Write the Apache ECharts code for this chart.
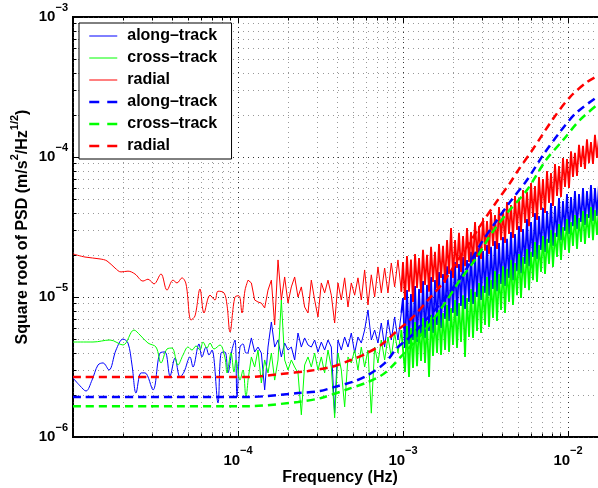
<!DOCTYPE html>
<html><head><meta charset="utf-8">
<script src="https://cdn.jsdelivr.net/npm/echarts@6/dist/echarts.min.js"></script>
<style>html,body{margin:0;padding:0;background:#fff}#c{width:598px;height:488px}</style>
</head><body><div id="c"></div>
<script>
// ---------------- data ----------------
const seriesNames = ['along–track', 'cross–track', 'radial'];
const modelNames = ['along–track ', 'cross–track ', 'radial '];

// measured spectra, low-frequency part (smooth)
const alongLowFreq = [1.000e-5,1.103e-5,1.199e-5,1.304e-5,1.418e-5,1.520e-5,1.653e-5,1.822e-5,2.009e-5,2.154e-5,2.278e-5,2.409e-5,2.583e-5,2.732e-5,3.054e-5,3.368e-5,3.611e-5,3.872e-5,4.151e-5,4.451e-5,4.706e-5,5.118e-5,5.337e-5,5.801e-5,6.050e-5,6.398e-5,6.671e-5,6.957e-5,7.565e-5,7.889e-5,8.342e-5,8.698e-5,9.197e-5,9.590e-5,9.861e-5,1.028e-4,1.072e-4,1.118e-4,1.150e-4];
const alongLow = [2.64e-6,2.32e-6,2.13e-6,2.55e-6,3.27e-6,3.38e-6,3.01e-6,4.18e-6,5.01e-6,4.69e-6,3.27e-6,2.06e-6,2.87e-6,2.87e-6,2.17e-6,3.98e-6,4.05e-6,2.73e-6,3.67e-6,2.68e-6,2.91e-6,3.73e-6,3.16e-6,4.62e-6,3.73e-6,4.39e-6,3.85e-6,4.18e-6,1.75e-6,3.98e-6,4.05e-6,2.87e-6,4.18e-6,4.93e-6,1.93e-6,4.39e-6,4.62e-6,3.98e-6,3.98e-6];

const crossLowFreq = [1.000e-5,1.322e-5,1.676e-5,2.009e-5,2.342e-5,2.547e-5,2.848e-5,3.185e-5,3.415e-5,3.713e-5,3.981e-5,4.329e-5,4.642e-5,4.977e-5,5.263e-5,5.566e-5,5.885e-5,6.136e-5,6.488e-5,6.766e-5,7.153e-5,7.780e-5,8.342e-5,8.577e-5,9.070e-5,9.458e-5,9.725e-5,1.028e-4,1.072e-4,1.118e-4,1.150e-4];
const crossLow = [4.77e-6,4.77e-6,4.93e-6,4.54e-6,5.81e-6,5.35e-6,4.69e-6,4.39e-6,3.38e-6,4.25e-6,4.32e-6,3.27e-6,3.85e-6,4.39e-6,4.18e-6,4.47e-6,4.18e-6,4.77e-6,4.32e-6,4.69e-6,4.25e-6,4.54e-6,3.67e-6,2.87e-6,3.98e-6,2.91e-6,3.55e-6,2.55e-6,3.01e-6,1.93e-6,2.55e-6];

const radialLowFreq = [1.000e-5,1.182e-5,1.458e-5,1.607e-5,1.797e-5,1.954e-5,2.154e-5,2.375e-5,2.656e-5,2.848e-5,3.097e-5,3.415e-5,3.713e-5,4.037e-5,4.268e-5,4.577e-5,4.840e-5,5.191e-5,5.488e-5,5.885e-5,6.222e-5,6.766e-5,7.254e-5,7.565e-5,8.227e-5,8.577e-5,8.944e-5,9.590e-5,1.014e-4,1.057e-4,1.103e-4,1.150e-4];
const radialLow = [2.03e-5,1.93e-5,1.87e-5,1.81e-5,1.61e-5,1.51e-5,1.53e-5,1.46e-5,1.30e-5,1.34e-5,1.24e-5,1.46e-5,1.12e-5,1.32e-5,1.26e-5,1.37e-5,1.24e-5,6.85e-6,7.33e-6,1.14e-5,7.69e-6,1.03e-5,9.52e-6,1.10e-5,1.07e-5,8.77e-6,5.62e-6,1.00e-5,1.02e-5,7.69e-6,1.12e-5,1.32e-5];

// measured spectra, noisy high-frequency part (shared frequency bins)
const bandFreq = [
1.150e-4,1.205e-4,1.262e-4,1.322e-4,1.385e-4,1.451e-4,1.520e-4,1.593e-4,1.668e-4,1.748e-4,1.831e-4,1.918e-4,2.009e-4,2.105e-4,2.205e-4,2.310e-4,2.420e-4,2.535e-4,2.656e-4,2.782e-4,2.915e-4,3.053e-4,3.199e-4,3.351e-4,3.511e-4,3.678e-4,3.853e-4,4.036e-4,4.228e-4,4.430e-4,4.641e-4,4.861e-4,5.093e-4,5.335e-4,5.589e-4,5.855e-4,6.134e-4,6.426e-4,6.732e-4,7.053e-4,7.388e-4,7.740e-4,8.109e-4,8.495e-4,8.899e-4,9.323e-4,9.767e-4,
1.000e-3,1.028e-3,1.057e-3,1.087e-3,1.118e-3,1.150e-3,1.183e-3,1.216e-3,1.251e-3,1.286e-3,1.322e-3,1.360e-3,1.398e-3,1.438e-3,1.479e-3,1.520e-3,1.563e-3,1.608e-3,1.653e-3,1.700e-3,1.748e-3,1.798e-3,1.849e-3,1.901e-3,1.955e-3,2.010e-3,2.067e-3,2.125e-3,2.185e-3,2.247e-3,2.311e-3,2.376e-3,2.443e-3,2.513e-3,2.584e-3,2.657e-3,2.732e-3,2.809e-3,2.889e-3,2.971e-3,3.055e-3,3.141e-3,3.230e-3,3.321e-3,3.415e-3,3.512e-3,3.611e-3,3.713e-3,3.818e-3,3.927e-3,4.038e-3,4.152e-3,4.269e-3,4.390e-3,4.514e-3,4.642e-3,4.774e-3,4.909e-3,5.048e-3,5.190e-3,5.337e-3,5.488e-3,5.644e-3,5.803e-3,5.968e-3,6.136e-3,6.310e-3,6.489e-3,6.672e-3,6.861e-3,7.055e-3,7.255e-3,7.460e-3,7.671e-3,7.888e-3,8.111e-3,8.341e-3,8.577e-3,8.819e-3,9.069e-3,9.325e-3,9.589e-3,9.860e-3,
1.014e-2,1.043e-2,1.072e-2,1.102e-2,1.134e-2,1.166e-2,1.199e-2,1.233e-2,1.267e-2,1.303e-2,1.340e-2,1.378e-2,1.417e-2,1.457e-2,1.498e-2,1.541e-2];
// index in bandFreq where the dense (solid-looking) part starts
const denseStart = 47;

const alongBand = [
3.98e-6,5.10e-6,4.05e-6,4.39e-6,3.98e-6,2.17e-6,4.39e-6,6.63e-6,4.39e-6,4.93e-6,3.73e-6,4.69e-6,4.18e-6,4.39e-6,3.55e-6,5.53e-6,4.39e-6,5.10e-6,4.54e-6,4.39e-6,4.93e-6,4.05e-6,4.77e-6,4.18e-6,4.93e-6,4.39e-6,1.48e-6,4.93e-6,4.18e-6,5.18e-6,4.39e-6,5.53e-6,3.98e-6,5.18e-6,4.69e-6,5.81e-6,8.08e-6,4.93e-6,5.81e-6,4.69e-6,6.52e-6,4.39e-6,6.85e-6,4.93e-6,7.20e-6,4.93e-6,7.69e-6,
9.84e-6,4.32e-6,1.12e-5,4.62e-6,1.05e-5,4.93e-6,1.20e-5,4.77e-6,1.14e-5,5.27e-6,
1.30e-5,5.10e-6,1.22e-5,5.72e-6,1.39e-5,5.53e-6,1.32e-5,6.31e-6,1.51e-5,6.00e-6,
1.46e-5,6.97e-6,1.66e-5,6.74e-6,1.56e-5,7.69e-6,1.78e-5,7.33e-6,1.72e-5,8.62e-6,
1.93e-5,8.21e-6,1.84e-5,9.21e-6,2.10e-5,8.91e-6,1.99e-5,1.00e-5,2.24e-5,9.52e-6,
2.13e-5,1.07e-5,2.35e-5,1.02e-5,2.28e-5,1.14e-5,2.51e-5,1.10e-5,2.43e-5,1.24e-5,
2.68e-5,1.20e-5,2.60e-5,1.37e-5,2.91e-5,1.32e-5,2.82e-5,1.53e-5,3.21e-5,1.48e-5,
3.06e-5,1.72e-5,3.60e-5,1.66e-5,3.43e-5,1.93e-5,3.98e-5,1.87e-5,3.79e-5,2.17e-5,
4.32e-5,2.10e-5,4.11e-5,2.43e-5,4.69e-5,2.32e-5,4.47e-5,2.68e-5,5.10e-5,2.55e-5,
4.85e-5,2.96e-5,5.44e-5,2.82e-5,5.18e-5,3.21e-5,5.72e-5,3.06e-5,5.44e-5,3.43e-5,
6.00e-5,3.27e-5,5.72e-5,3.67e-5,6.31e-5,3.49e-5,6.00e-5,3.79e-5,6.42e-5];

const crossBand = [
2.55e-6,3.73e-6,3.16e-6,4.18e-6,2.43e-6,3.55e-6,2.87e-6,3.98e-6,2.55e-6,3.55e-6,9.52e-6,3.55e-6,3.01e-6,3.55e-6,3.16e-6,2.87e-6,1.44e-6,3.27e-6,3.73e-6,3.16e-6,3.98e-6,3.01e-6,3.73e-6,2.87e-6,4.18e-6,3.16e-6,1.37e-6,3.98e-6,3.01e-6,1.64e-6,3.73e-6,3.38e-6,4.18e-6,3.01e-6,4.39e-6,3.16e-6,4.18e-6,1.48e-6,4.39e-6,3.38e-6,4.93e-6,3.55e-6,5.18e-6,3.73e-6,5.53e-6,3.98e-6,5.81e-6,
5.81e-6,2.91e-6,6.20e-6,2.68e-6,6.00e-6,3.11e-6,6.63e-6,3.21e-6,6.31e-6,3.49e-6,
7.08e-6,3.38e-6,6.74e-6,2.68e-6,7.45e-6,3.79e-6,7.08e-6,3.98e-6,8.08e-6,3.85e-6,
7.69e-6,4.18e-6,8.77e-6,4.05e-6,8.35e-6,4.54e-6,9.52e-6,4.32e-6,9.05e-6,4.77e-6,
1.03e-5,3.73e-6,9.84e-6,5.18e-6,1.14e-5,5.10e-6,1.09e-5,5.72e-6,1.26e-5,5.53e-6,
1.20e-5,6.31e-6,1.39e-5,6.11e-6,1.32e-5,7.08e-6,1.53e-5,6.74e-6,1.46e-5,8.08e-6,
1.66e-5,7.69e-6,1.59e-5,9.21e-6,1.84e-5,8.77e-6,1.75e-5,1.03e-5,2.03e-5,9.84e-6,
1.93e-5,1.16e-5,2.20e-5,1.12e-5,2.10e-5,1.32e-5,2.47e-5,1.28e-5,2.35e-5,1.51e-5,
2.73e-5,1.46e-5,2.60e-5,1.72e-5,3.01e-5,1.64e-5,2.87e-5,1.93e-5,3.32e-5,1.84e-5,
3.16e-5,2.17e-5,3.60e-5,2.06e-5,3.43e-5,2.32e-5,3.85e-5,2.20e-5,3.67e-5,2.47e-5,
4.11e-5,2.39e-5,3.91e-5,2.64e-5,4.39e-5,2.55e-5,4.18e-5,2.77e-5,4.47e-5];

const radialBand = [
1.32e-5,1.26e-5,9.52e-6,9.21e-6,9.05e-6,8.35e-6,1.12e-5,1.32e-5,6.31e-6,1.84e-5,9.52e-6,1.39e-5,9.05e-6,1.18e-5,1.39e-5,1.00e-5,1.18e-5,8.48e-6,7.69e-6,1.32e-5,9.52e-6,7.20e-6,1.26e-5,1.07e-5,1.32e-5,1.03e-5,6.52e-6,1.26e-5,9.52e-6,1.37e-5,8.48e-6,1.26e-5,1.03e-5,1.37e-5,9.52e-6,1.56e-5,8.77e-6,1.44e-5,1.00e-5,1.64e-5,1.07e-5,1.61e-5,1.07e-5,1.75e-5,1.18e-5,1.84e-5,1.09e-5,
1.78e-5,9.52e-6,1.96e-5,1.09e-5,1.85e-5,9.21e-6,2.03e-5,1.16e-5,1.90e-5,1.07e-5,
2.17e-5,1.22e-5,2.00e-5,1.09e-5,2.28e-5,1.28e-5,2.10e-5,1.16e-5,2.39e-5,1.37e-5,
2.32e-5,1.26e-5,2.55e-5,1.46e-5,3.11e-5,1.37e-5,2.55e-5,1.61e-5,2.87e-5,1.51e-5,
2.73e-5,1.66e-5,3.11e-5,1.78e-5,2.91e-5,1.72e-5,3.43e-5,1.93e-5,3.21e-5,1.87e-5,
3.67e-5,2.14e-5,3.49e-5,2.03e-5,4.05e-5,2.32e-5,3.85e-5,2.20e-5,4.39e-5,2.55e-5,
4.18e-5,2.43e-5,4.77e-5,2.82e-5,4.54e-5,2.64e-5,5.27e-5,3.01e-5,5.10e-5,2.91e-5,
5.81e-5,3.38e-5,5.62e-5,3.21e-5,6.52e-5,3.73e-5,6.20e-5,3.55e-5,7.20e-5,4.18e-5,
6.97e-5,3.98e-5,7.94e-5,4.69e-5,7.69e-5,4.47e-5,8.91e-5,5.27e-5,8.62e-5,5.18e-5,
9.84e-5,6.11e-5,9.67e-5,6.00e-5,1.10e-4,7.20e-5,1.07e-4,7.33e-5,1.22e-4,8.48e-5,
1.20e-4,8.21e-5,1.34e-4,9.05e-5,1.28e-4,8.91e-5,1.44e-4,9.84e-5,1.37e-4];

// model curves (dashed)
const alongModelFreq = [1.000e-5,2.929e-5,1.150e-4,2.310e-4,3.140e-4,3.872e-4,5.118e-4,6.136e-4,7.780e-4,9.197e-4,1.103e-3,1.322e-3,1.563e-3,1.927e-3,2.443e-3,2.929e-3,3.611e-3,4.451e-3,5.644e-3,7.055e-3,8.944e-3,1.118e-2,1.563e-2];
const alongModel = [1.93e-6,1.93e-6,1.93e-6,2.06e-6,2.13e-6,2.28e-6,2.51e-6,2.77e-6,3.38e-6,4.32e-6,5.18e-6,6.52e-6,8.08e-6,1.09e-5,1.61e-5,2.35e-5,3.38e-5,4.77e-5,6.85e-5,1.03e-4,1.51e-4,2.06e-4,2.78e-4];
const crossModelFreq = [1.000e-5,2.929e-5,1.150e-4,2.310e-4,3.186e-4,4.642e-4,6.136e-4,7.780e-4,1.057e-3,1.268e-3,1.520e-3,1.797e-3,2.215e-3,2.808e-3,3.462e-3,4.329e-3,5.644e-3,7.356e-3,9.326e-3,1.182e-2,1.563e-2];
const crossModel = [1.66e-6,1.66e-6,1.66e-6,1.78e-6,1.90e-6,2.20e-6,2.47e-6,2.87e-6,4.18e-6,5.27e-6,6.85e-6,9.05e-6,1.32e-5,1.93e-5,2.87e-5,4.05e-5,5.81e-5,9.52e-5,1.32e-4,1.84e-4,2.45e-4];
const radialModelFreq = [1.000e-5,2.929e-5,1.150e-4,1.822e-4,2.656e-4,3.661e-4,4.840e-4,5.885e-4,7.356e-4,9.326e-4,1.134e-3,1.418e-3,1.723e-3,2.096e-3,2.547e-3,2.929e-3,3.611e-3,4.451e-3,4.908e-3,6.136e-3,8.111e-3,1.028e-2,1.304e-2,1.563e-2];
const radialModel = [2.68e-6,2.68e-6,2.68e-6,2.82e-6,2.96e-6,3.16e-6,3.55e-6,3.91e-6,4.54e-6,5.81e-6,7.08e-6,9.52e-6,1.24e-5,1.75e-5,2.47e-5,3.21e-5,4.62e-5,6.52e-5,7.81e-5,1.14e-4,1.87e-4,2.68e-4,3.43e-4,3.88e-4];

// axes
const xMin = 1e-5, xMax = 1.563e-2, yMin = 1e-6, yMax = 1e-3;
const xDecades = [1e-5, 1e-4, 1e-3, 1e-2];
const yDecades = [1e-6, 1e-5, 1e-4, 1e-3];
const minorSteps = [2, 3, 4, 5, 6, 7, 8, 9];
const xLabelExps = [-4, -3, -2];
const yLabelExps = [-6, -5, -4, -3];

const colors = ['#0000ff', '#00ff00', '#ff0000'];
const FONT = '"Liberation Sans", Arial, Helvetica, sans-serif';

// ---------------- build ----------------
function zip(f, v) { return f.map((x, i) => [x, v[i]]); }
function part(f, v, a, b) { return zip(f.slice(a, b), v.slice(a, b)); }

const xGrid = [];
xDecades.forEach(d => {
  xGrid.push([d, 1e-5, 1]);
  minorSteps.forEach(k => { const v = k * d; if (v < xMax) xGrid.push([v, 1e-5, 0]); });
});
const yGrid = [];
yDecades.forEach(d => {
  yGrid.push([1e-3, d, 1]);
  if (d < yMax) minorSteps.forEach(k => yGrid.push([1e-3, k * d, 0]));
});

function renderXGrid(params, api) {
  const cs = params.coordSys;
  const p = api.coord([api.value(0), api.value(1)]);
  const x = Math.round(p[0]) + 0.5;
  const major = api.value(2) === 1;
  const len = major ? 6 : 3.5;
  const top = cs.y, bot = cs.y + cs.height;
  return { type: 'group', children: [
    { type: 'line', shape: { x1: x, y1: top, x2: x, y2: bot }, style: { stroke: major ? '#333' : '#999', lineWidth: 1, lineDash: [1, 4] } },
    { type: 'line', shape: { x1: x, y1: bot, x2: x, y2: bot - len }, style: { stroke: '#000', lineWidth: 1 } },
    { type: 'line', shape: { x1: x, y1: top, x2: x, y2: top + len }, style: { stroke: '#000', lineWidth: 1 } }
  ]};
}
function renderYGrid(params, api) {
  const cs = params.coordSys;
  const p = api.coord([api.value(0), api.value(1)]);
  const y = Math.round(p[1]) + 0.5;
  const major = api.value(2) === 1;
  const len = major ? 6 : 3.5;
  const left = cs.x, right = cs.x + cs.width;
  return { type: 'group', children: [
    { type: 'line', shape: { x1: left, y1: y, x2: right, y2: y }, style: { stroke: major ? '#333' : '#999', lineWidth: 1, lineDash: [1, 4] } },
    { type: 'line', shape: { x1: left, y1: y, x2: left + len, y2: y }, style: { stroke: '#000', lineWidth: 1 } }
  ]};
}

const labelRich = {
  b: { fontFamily: FONT, fontSize: 15, fontWeight: 'bold', color: '#000', lineHeight: 30 },
  s: { fontFamily: FONT, fontSize: 11, fontWeight: 'bold', color: '#000', verticalAlign: 'top' }
};
function expLabel(allowed) {
  return function (v) {
    const l = Math.log10(v), e = Math.round(l);
    if (Math.abs(l - e) > 1e-6 || allowed.indexOf(e) < 0) return '';
    return '{b|10}{s|−' + (-e) + '}';
  };
}

function solid(name, data, color, smooth, width) {
  return { name, type: 'line', data: data, smooth: smooth, symbol: 'none', showSymbol: false,
    lineStyle: { color, width: width, join: 'miter', miterLimit: 2 }, itemStyle: { color }, z: 3, silent: true, animation: false };
}
function dashed(name, f, v, color) {
  return { name, type: 'line', data: zip(f, v), smooth: 0.3, symbol: 'none', showSymbol: false,
    lineStyle: { color, width: 2.5, type: [8, 5] }, itemStyle: { color }, z: 4, silent: true, animation: false };
}

const chart = echarts.init(document.getElementById('c'), null, { renderer: 'canvas' });
const nB = bandFreq.length;
chart.setOption({
  animation: false,
  backgroundColor: '#fff',
  grid: { left: 73, right: -2, top: 17, bottom: 51, show: true, borderColor: '#000', borderWidth: 2, backgroundColor: 'transparent', containLabel: false, outerBoundsMode: 'none' },
  xAxis: {
    type: 'log', logBase: 10, min: xMin, max: xMax,
    axisLine: { show: true, onZero: false, lineStyle: { color: '#000', width: 2 } },
    axisTick: { show: false }, splitLine: { show: false }, minorTick: { show: false },
    axisLabel: { margin: 8.5, formatter: expLabel(xLabelExps), rich: labelRich, showMinLabel: true, showMaxLabel: true, hideOverlap: false }
  },
  yAxis: {
    type: 'log', logBase: 10, min: yMin, max: yMax,
    axisLine: { show: true, onZero: false, lineStyle: { color: '#000', width: 2 } },
    axisTick: { show: false }, splitLine: { show: false }, minorTick: { show: false },
    axisLabel: { margin: 5, formatter: expLabel(yLabelExps), rich: labelRich, showMinLabel: true, showMaxLabel: true, hideOverlap: false }
  },
  legend: {
    orient: 'vertical', left: 79, top: 23, itemWidth: 28, itemHeight: 14, itemGap: 6,
    padding: [5, 10, 5, 9], backgroundColor: '#fff', borderColor: '#000', borderWidth: 1, borderRadius: 0,
    selectedMode: false,
    textStyle: { fontFamily: FONT, fontSize: 16, fontWeight: 'bold', color: '#000', padding: [0, 0, 0, 5] },
    data: [
      { name: seriesNames[0], lineStyle: { color: colors[0], width: 1, type: 'solid' }, itemStyle: { opacity: 0 } },
      { name: seriesNames[1], lineStyle: { color: colors[1], width: 1, type: 'solid' }, itemStyle: { opacity: 0 } },
      { name: seriesNames[2], lineStyle: { color: colors[2], width: 1, type: 'solid' }, itemStyle: { opacity: 0 } },
      { name: modelNames[0], lineStyle: { color: colors[0], width: 2.5, type: [10, 8] }, itemStyle: { opacity: 0 } },
      { name: modelNames[1], lineStyle: { color: colors[1], width: 2.5, type: [10, 8] }, itemStyle: { opacity: 0 } },
      { name: modelNames[2], lineStyle: { color: colors[2], width: 2.5, type: [10, 8] }, itemStyle: { opacity: 0 } }
    ]
  },
  graphic: [
    { type: 'text', x: 23, y: 227, rotation: Math.PI / 2, silent: true,
      style: { text: '{t|Square root of PSD (m/s}{s|2}{t|/Hz}{s|1/2}{t|)}', align: 'center', verticalAlign: 'middle',
        rich: { t: { fontFamily: FONT, fontSize: 16, fontWeight: 'bold', fill: '#000', lineHeight: 28 },
                s: { fontFamily: FONT, fontSize: 11, fontWeight: 'bold', fill: '#000', verticalAlign: 'top' } } } },
    { type: 'text', x: 340, y: 478, silent: true,
      style: { text: 'Frequency (Hz)', fontFamily: FONT, fontSize: 16, fontWeight: 'bold', fill: '#000', align: 'center', verticalAlign: 'middle' } }
  ],
  series: [
    { type: 'custom', name: 'xgrid', data: xGrid, dimensions: ['x', 'y', 'm'], encode: { x: 0, y: 1 }, renderItem: renderXGrid, z: 1, silent: true, animation: false },
    { type: 'custom', name: 'ygrid', data: yGrid, dimensions: ['x', 'y', 'm'], encode: { x: 0, y: 1 }, renderItem: renderYGrid, z: 1, silent: true, animation: false },
    solid(seriesNames[0], zip(alongLowFreq, alongLow), colors[0], 0.35, 1),
    solid(seriesNames[1], zip(crossLowFreq, crossLow), colors[1], 0.35, 1),
    solid(seriesNames[2], zip(radialLowFreq, radialLow), colors[2], 0.35, 1),
    solid(seriesNames[0], part(bandFreq, alongBand, 0, denseStart), colors[0], false, 1),
    solid(seriesNames[0], part(bandFreq, alongBand, denseStart - 1, nB), colors[0], false, 1.8),
    solid(seriesNames[1], part(bandFreq, crossBand, 0, denseStart), colors[1], false, 1),
    solid(seriesNames[1], part(bandFreq, crossBand, denseStart - 1, nB), colors[1], false, 1.8),
    solid(seriesNames[2], part(bandFreq, radialBand, 0, denseStart), colors[2], false, 1),
    solid(seriesNames[2], part(bandFreq, radialBand, denseStart - 1, nB), colors[2], false, 1.8),
    dashed(modelNames[0], alongModelFreq, alongModel, colors[0]),
    dashed(modelNames[1], crossModelFreq, crossModel, colors[1]),
    dashed(modelNames[2], radialModelFreq, radialModel, colors[2])
  ]
});
</script>
</body></html>
